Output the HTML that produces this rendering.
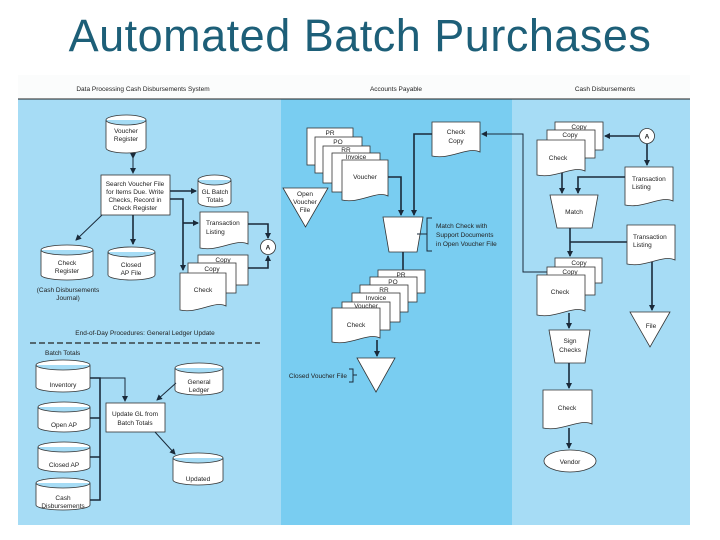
<!DOCTYPE html>
<html><head><meta charset="utf-8"><style>
body{margin:0;width:720px;height:540px;background:#fff;overflow:hidden;font-family:"Liberation Sans",sans-serif}
h1{position:absolute;left:0;top:10px;width:720px;margin:0;text-align:center;font-weight:normal;font-size:45px;letter-spacing:0.5px;color:#1d5f78;font-family:"Liberation Sans",sans-serif}
svg{position:absolute;left:0;top:0}
text{font-family:"Liberation Sans",sans-serif;font-size:6.5px;fill:#222}
.s{fill:#fff;stroke:#333;stroke-width:.8}
.l{fill:none;stroke:#1a2a3a;stroke-width:1.6}
.t{fill:none;stroke:#1a2a3a;stroke-width:1}
</style></head><body>
<h1>Automated Batch Purchases</h1>
<svg width="720" height="540" viewBox="0 0 720 540">
<defs><marker id="a" markerWidth="6" markerHeight="6" refX="5" refY="3" orient="auto" markerUnits="userSpaceOnUse"><path d="M0,0L6,3L0,6z" fill="#1a2a3a"/></marker></defs>
<rect x="18" y="75" width="672" height="24" fill="#fbfcfc"/>
<rect x="18" y="99" width="263" height="426" fill="#a6dcf5"/>
<rect x="281" y="99" width="231" height="426" fill="#79cdf1"/>
<rect x="512" y="99" width="178" height="426" fill="#a6dcf5"/>
<line x1="18" y1="99" x2="690" y2="99" stroke="#222" stroke-width="1"/>
<text x="143" y="91" text-anchor="middle" font-size="7">Data Processing Cash Disbursements System</text>
<text x="396" y="91" text-anchor="middle" font-size="7">Accounts Payable</text>
<text x="605" y="91" text-anchor="middle" font-size="7">Cash Disbursements</text>

<!-- LEFT TOP -->
<path class="s" d="M106 120a20 5 0 0 1 40 0v28a20 5 0 0 1-40 0zM106 120a20 5 0 0 0 40 0"/>
<text x="126" y="133" text-anchor="middle">Voucher</text><text x="126" y="141" text-anchor="middle">Register</text>
<line class="t" x1="133" y1="158" x2="133" y2="173" marker-end="url(#a)" marker-start="url(#a)"/>
<rect class="s" x="101" y="175" width="69" height="40"/>
<text x="135" y="186" text-anchor="middle">Search Voucher File</text><text x="135" y="194" text-anchor="middle">for Items Due. Write</text><text x="135" y="202" text-anchor="middle">Checks, Record in</text><text x="135" y="210" text-anchor="middle">Check Register</text>
<path class="s" d="M198 180a16.5 5 0 0 1 33 0v22a16.5 5 0 0 1-33 0zM198 180a16.5 5 0 0 0 33 0"/>
<text x="215" y="194" text-anchor="middle">GL Batch</text><text x="215" y="202" text-anchor="middle">Totals</text>
<path class="l" d="M170 191H196" marker-end="url(#a)"/>
<path class="l" d="M170 199H183V270" marker-end="url(#a)"/>
<path class="l" d="M183 223H198" marker-end="url(#a)"/>
<path class="s" d="M200 212h48v32c-12-6-29 8-48 4z"/>
<text x="206" y="225">Transaction</text><text x="206" y="234">Listing</text>
<circle class="s" cx="268" cy="247" r="7.5"/><text x="268" y="249.5" text-anchor="middle" font-weight="bold">A</text>
<path class="l" d="M248 224H268V238" marker-end="url(#a)"/>
<path class="l" d="M248 268H268V256" marker-end="url(#a)"/>
<rect class="s" x="198" y="255" width="50" height="30"/><text x="223" y="262" text-anchor="middle">Copy</text>
<rect class="s" x="188" y="263" width="48" height="30"/><text x="212" y="271" text-anchor="middle">Copy</text>
<path class="s" d="M180 273h46v33c-11-6-28 8-46 4z"/><text x="203" y="292" text-anchor="middle">Check</text>
<path class="t" d="M102 215L76 240" marker-end="url(#a)"/>
<path class="l" d="M133 215V244" marker-end="url(#a)"/>
<path class="s" d="M41 250a26 5 0 0 1 52 0v25a26 5 0 0 1-52 0zM41 250a26 5 0 0 0 52 0"/>
<text x="67" y="265" text-anchor="middle">Check</text><text x="67" y="273" text-anchor="middle">Register</text>
<path class="s" d="M108 252a23.5 5 0 0 1 47 0v23a23.5 5 0 0 1-47 0zM108 252a23.5 5 0 0 0 47 0"/>
<text x="131" y="267" text-anchor="middle">Closed</text><text x="131" y="275" text-anchor="middle">AP File</text>
<text x="68" y="292" text-anchor="middle">(Cash Disbursements</text><text x="68" y="300" text-anchor="middle">Journal)</text>

<!-- LEFT BOTTOM -->
<text x="145" y="335" text-anchor="middle" font-size="8.5">End-of-Day Procedures: General Ledger Update</text>
<line x1="30" y1="343" x2="260" y2="343" stroke="#222" stroke-width="1.3" stroke-dasharray="6,3"/>
<text x="45" y="355">Batch Totals</text>
<path class="s" d="M36 365a27 5 0 0 1 54 0v22a27 5 0 0 1-54 0zM36 365a27 5 0 0 0 54 0"/><text x="63" y="387" text-anchor="middle">Inventory</text>
<path class="s" d="M38 407a26 5 0 0 1 52 0v20a26 5 0 0 1-52 0zM38 407a26 5 0 0 0 52 0"/><text x="64" y="427" text-anchor="middle">Open AP</text>
<path class="s" d="M38 447a26 5 0 0 1 52 0v20a26 5 0 0 1-52 0zM38 447a26 5 0 0 0 52 0"/><text x="64" y="467" text-anchor="middle">Closed AP</text>
<path class="s" d="M36 483a27 5 0 0 1 54 0v22a27 5 0 0 1-54 0zM36 483a27 5 0 0 0 54 0"/><text x="63" y="500" text-anchor="middle">Cash</text><text x="63" y="508" text-anchor="middle">Disbursements</text>
<path class="l" d="M90 378H100V500H90M90 418H100M90 457H100"/>
<path class="t" d="M100 378H125V401" marker-end="url(#a)"/>
<rect class="s" x="106" y="403" width="59" height="29"/>
<text x="135" y="416" text-anchor="middle">Update GL from</text><text x="135" y="425" text-anchor="middle">Batch Totals</text>
<path class="s" d="M175 368a24 5 0 0 1 48 0v22a24 5 0 0 1-48 0zM175 368a24 5 0 0 0 48 0"/><text x="199" y="384" text-anchor="middle">General</text><text x="199" y="392" text-anchor="middle">Ledger</text>
<path class="t" d="M176 383L157 400" marker-end="url(#a)"/>
<path class="t" d="M155 432L175 454" marker-end="url(#a)"/>
<path class="s" d="M173 458a25 5 0 0 1 50 0v22a25 5 0 0 1-50 0zM173 458a25 5 0 0 0 50 0"/><text x="198" y="481" text-anchor="middle">Updated</text>

<!-- MIDDLE -->
<rect class="s" x="307" y="128" width="46" height="37"/><text x="330" y="135" text-anchor="middle">PR</text>
<rect class="s" x="315" y="137" width="47" height="36"/><text x="338" y="144" text-anchor="middle">PO</text>
<rect class="s" x="323" y="146" width="47" height="37"/><text x="346" y="152" text-anchor="middle">RR</text>
<rect class="s" x="332" y="153" width="48" height="39"/><text x="356" y="159" text-anchor="middle">Invoice</text>
<path class="s" d="M342 160h46v36c-11-6-28 8-46 4z"/><text x="365" y="179" text-anchor="middle">Voucher</text>
<path class="s" d="M283 188h45l-22.5 39z"/><text x="305" y="196" text-anchor="middle">Open</text><text x="305" y="204" text-anchor="middle">Voucher</text><text x="305" y="212" text-anchor="middle">File</text>
<path class="s" d="M432 122h48v30c-12-6-29 8-48 4z"/><text x="456" y="134" text-anchor="middle">Check</text><text x="456" y="143" text-anchor="middle">Copy</text>
<path class="l" d="M388 177H401V215" marker-end="url(#a)"/>
<path class="l" d="M432 134H414V215" marker-end="url(#a)"/>
<path class="s" d="M383 217h40l-6 35h-28z"/>
<path class="t" d="M417 234H427M432 218H427V251H432"/>
<text x="436" y="228">Match Check with</text><text x="436" y="237">Support Documents</text><text x="436" y="246">in Open Voucher File</text>
<path class="l" d="M403 252V270"/>
<rect class="s" x="378" y="270" width="47" height="23"/><text x="401" y="277" text-anchor="middle">PR</text>
<rect class="s" x="370" y="277" width="47" height="25"/><text x="393" y="284" text-anchor="middle">PO</text>
<rect class="s" x="360" y="285" width="48" height="27"/><text x="384" y="292" text-anchor="middle">RR</text>
<rect class="s" x="352" y="293" width="48" height="29"/><text x="376" y="300" text-anchor="middle">Invoice</text>
<rect class="s" x="342" y="302" width="48" height="28"/><text x="366" y="308" text-anchor="middle">Voucher</text>
<path class="s" d="M332 308h48v30c-12-6-29 8-48 4z"/><text x="356" y="327" text-anchor="middle">Check</text>
<path class="l" d="M377 340V356" marker-end="url(#a)"/>
<path class="s" d="M357 358h38l-19 34z"/>
<path class="t" d="M357 375H353M349 369H353V382H349"/>
<text x="347" y="378" text-anchor="end">Closed Voucher File</text>

<!-- RIGHT -->
<path class="t" d="M547 272H523V134H482" marker-end="url(#a)" stroke-width="1.3"/>
<rect class="s" x="555" y="122" width="48" height="28"/><text x="579" y="129" text-anchor="middle">Copy</text>
<rect class="s" x="547" y="130" width="48" height="28"/><text x="570" y="137" text-anchor="middle">Copy</text>
<path class="s" d="M537 140h48v31c-12-6-29 8-48 4z"/><text x="558" y="160" text-anchor="middle">Check</text>
<circle class="s" cx="647" cy="136" r="7.5"/><text x="647" y="138.5" text-anchor="middle" font-weight="bold">A</text>
<path class="l" d="M639 136H605" marker-end="url(#a)"/>
<path class="l" d="M647 144V165" marker-end="url(#a)"/>
<path class="s" d="M625 167h48v34c-12-6-29 8-48 4z"/><text x="632" y="181">Transaction</text><text x="632" y="189">Listing</text>
<path class="l" d="M562 173V193" marker-end="url(#a)"/>
<path class="l" d="M625 177H578V193" marker-end="url(#a)"/>
<path class="s" d="M550 195h48l-6 33h-35z"/><text x="574" y="214" text-anchor="middle">Match</text>
<path class="l" d="M570 228V256" marker-end="url(#a)"/>
<path class="l" d="M627 242H570"/>
<path class="s" d="M627 225h48v35c-12-6-29 8-48 4z"/><text x="633" y="239">Transaction</text><text x="633" y="247">Listing</text>
<path class="l" d="M652 262V310" marker-end="url(#a)"/>
<path class="s" d="M630 312h40l-20 35z"/><text x="651" y="328" text-anchor="middle">File</text>
<rect class="s" x="555" y="258" width="47" height="25"/><text x="579" y="265" text-anchor="middle">Copy</text>
<rect class="s" x="547" y="267" width="48" height="28"/><text x="570" y="274" text-anchor="middle">Copy</text>
<path class="s" d="M537 275h48v36c-12-6-29 8-48 4z"/><text x="560" y="294" text-anchor="middle">Check</text>
<path class="l" d="M569 313V328" marker-end="url(#a)"/>
<path class="s" d="M549 330h41l-5 33h-30z"/><text x="570" y="343" text-anchor="middle">Sign</text><text x="570" y="352" text-anchor="middle">Checks</text>
<path class="l" d="M569 363V388" marker-end="url(#a)"/>
<path class="s" d="M543 390h49v34c-12-6-30 8-49 4z"/><text x="567" y="410" text-anchor="middle">Check</text>
<path class="l" d="M569 428V448" marker-end="url(#a)"/>
<ellipse class="s" cx="570" cy="461" rx="26" ry="11"/><text x="570" y="464" text-anchor="middle">Vendor</text>
</svg>
</body></html>
